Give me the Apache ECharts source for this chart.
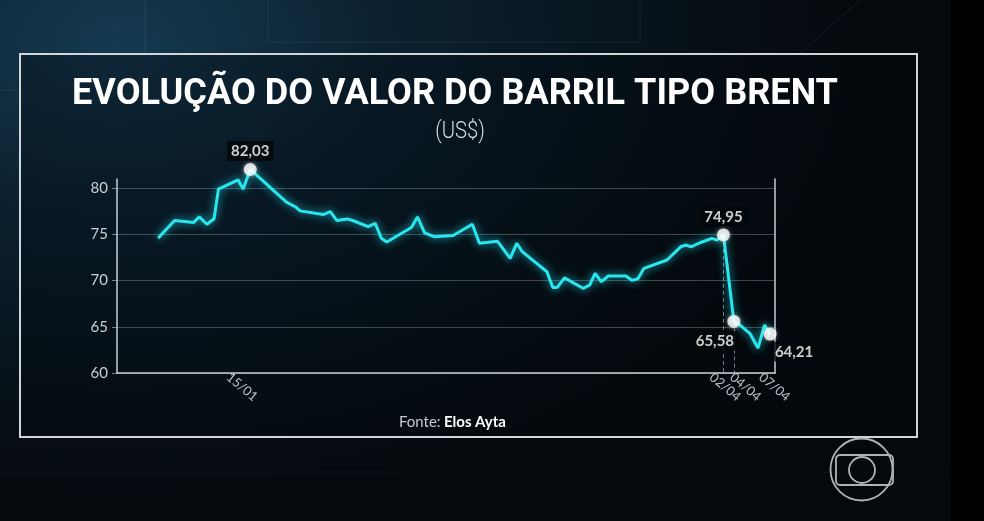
<!DOCTYPE html>
<html>
<head>
<meta charset="utf-8">
<script src="https://cdn.jsdelivr.net/npm/echarts@6/dist/echarts.min.js"></script>
<style>
  html, body { margin: 0; padding: 0; background: #000; }
  #chart {
    width: 984px; height: 521px;
    background: radial-gradient(ellipse 75% 90% at 12% 8%, #153a50 0%, #0c2231 35%, #08151e 65%, #05090d 100%);
  }
</style>
</head>
<body>
<div id="chart"></div>
<script>
// ---- data ----
// position along the time axis (sessions, approximate) and Brent price (US$)
const times = [7.5, 10.5, 14, 15, 16.4, 17.7, 18.5, 22.1, 23, 24.3,
  30.9, 32.5, 33.4, 37.6, 38.9, 40.1, 42.0, 43.1, 45.8, 47.1,
  48.2, 49.2, 53.7, 54.8, 56.1, 57.8, 61.3, 64.8, 66.1, 69.4,
  71.7, 72.9, 73.9, 78.4, 79.5, 80.3, 81.6, 85.0, 86.2, 87.2,
  88.3, 89.6, 92.8, 93.9, 95.0, 96.1, 100.3, 102.9, 103.8, 104.7,
  106.3, 108.5, 109.4, 110.6, 112.5, 113.8, 115.4, 116.9, 118.1, 119.1];
const prices = [74.6, 76.5, 76.3, 76.9, 76.1, 76.7, 79.9, 80.9, 79.9, 82.03,
  78.5, 78.0, 77.55, 77.15, 77.46, 76.5, 76.68, 76.48, 75.85, 76.2,
  74.58, 74.18, 75.75, 76.9, 75.18, 74.75, 74.88, 76.1, 74.04, 74.25,
  72.41, 74.04, 73.13, 70.96, 69.23, 69.27, 70.3, 69.17, 69.52, 70.79,
  69.88, 70.5, 70.5, 70.03, 70.2, 71.33, 72.23, 73.7, 73.85, 73.65,
  74.1, 74.58, 74.39, 74.95, 65.58, 65.1, 64.3, 62.7, 65.2, 64.21];
// highlighted points (indices into the arrays above)
const highlightIdx = [9, 53, 54, 59];
// x tick labels and where they sit on the time axis
const tickPos = [22.8, 110.9, 114.6, 119.9];
const tickLabels = ['15/01', '02/04', '04/04', '07/04'];
// dashed guide lines (indices into the arrays)
const guideIdx = [9, 53, 54];
const yTicks = [60, 65, 70, 75, 80];

const titleText = 'EVOLUÇÃO DO VALOR DO BARRIL TIPO BRENT';
const subtitleText = '(US$)';
const sourceText = '{a|Fonte:} {b|Elos Ayta}';

// ---- helpers ----
function textWidth(str, font) {
  const c = document.createElement('canvas').getContext('2d');
  c.font = font;
  return c.measureText(str).width;
}
const titleFont = 'bold 37px Roboto';
const titleScale = 766 / textWidth(titleText, titleFont);

// ---- chart ----
const chart = echarts.init(document.getElementById('chart'), null, { renderer: 'canvas' });
const fmt = v => v.toFixed(2).replace('.', ',');
const lineData = times.map((t, i) => [t, prices[i]]);

const labelPos = [
  { position: 'top', distance: 2, offset: [0, 0] },
  { position: 'top', distance: 2, offset: [0, 0] },
  { position: 'bottom', distance: 3, offset: [-19, 0] },
  { position: 'bottom', distance: 0, offset: [24, 1] }
];
const hiData = highlightIdx.map((idx, k) => ({
  value: [times[idx], prices[idx]],
  label: labelPos[k]
}));

const guideLines = guideIdx.map(idx => [
  { coord: [times[idx], prices[idx]] },
  { coord: [times[idx], 60] }
]);

const axisGray = '#c9cfd2';

chart.setOption({
  backgroundColor: 'transparent',
  animation: false,
  textStyle: { fontFamily: 'Lato, "Open Sans", sans-serif' },
  grid: { left: 117, right: 209, top: 179, bottom: 148 },
  xAxis: {
    type: 'value', min: 0, max: 120,
    axisLine: { show: true, lineStyle: { color: axisGray, width: 1.5 } },
    axisTick: { show: false },
    splitLine: { show: false },
    axisLabel: {
      customValues: tickPos,
      rotate: -40,
      align: 'center',
      verticalAlign: 'middle',
      margin: 14,
      color: '#bcc4c8',
      fontSize: 13,
      formatter: v => {
        const k = tickPos.findIndex(p => Math.abs(p - v) < 0.01);
        return k >= 0 ? tickLabels[k] : '';
      }
    }
  },
  yAxis: [{
    type: 'value', min: 60, max: 81,
    axisLine: { show: true, lineStyle: { color: axisGray, width: 1.5 } },
    axisTick: { show: true, customValues: yTicks, length: 5, lineStyle: { color: 'rgba(190,200,205,0.6)' } },
    axisLabel: { customValues: yTicks, color: '#c8d0d4', fontSize: 15, margin: 9 },
    splitLine: { show: true, lineStyle: { color: 'rgba(170,185,190,0.35)', width: 1 } }
  }, {
    type: 'value', min: 60, max: 81, position: 'right',
    axisLine: { show: true, lineStyle: { color: axisGray, width: 1.5 } },
    axisTick: { show: false }, axisLabel: { show: false }, splitLine: { show: false }
  }],
  series: [{
    type: 'line',
    data: lineData,
    clip: false,
    symbol: 'none',
    z: 3,
    lineStyle: { color: '#2ae6ee', width: 3, shadowColor: 'rgba(30,220,235,0.9)', shadowBlur: 8 },
    markLine: {
      silent: true, symbol: 'none', animation: false,
      label: { show: false },
      lineStyle: { color: 'rgba(190,200,205,0.6)', type: [4, 3], width: 1 },
      data: guideLines
    }
  }, {
    type: 'scatter',
    data: hiData,
    clip: false,
    z: 5,
    symbolSize: 13,
    itemStyle: { color: '#ffffff', shadowColor: 'rgba(255,255,255,0.6)', shadowBlur: 4 },
    label: {
      show: true,
      formatter: p => fmt(p.value[1]),
      color: '#ffffff',
      fontSize: 15,
      fontWeight: 'bold',
      backgroundColor: '#040709',
      padding: [3, 4, 2, 4]
    }
  }],
  graphic: [
    // black strip on the right
    { type: 'rect', z: -10, shape: { x: 951, y: 0, width: 33, height: 521 }, style: { fill: '#000' } },
    // faint background lines
    { type: 'polyline', z: -9, shape: { points: [[268, 0], [268, 42], [640, 42], [640, 0]] }, style: { stroke: 'rgba(140,180,200,0.10)', fill: null, lineWidth: 1 } },
    { type: 'line', z: -9, shape: { x1: 145, y1: 0, x2: 145, y2: 53 }, style: { stroke: 'rgba(140,180,200,0.12)', lineWidth: 1 } },
    { type: 'line', z: -9, shape: { x1: 860, y1: 0, x2: 800, y2: 53 }, style: { stroke: 'rgba(140,180,200,0.12)', lineWidth: 1 } },
    { type: 'line', z: -9, shape: { x1: 0, y1: 472, x2: 951, y2: 472 }, style: { stroke: 'rgba(140,180,200,0.07)', lineWidth: 1 } },
    { type: 'line', z: -9, shape: { x1: 0, y1: 90, x2: 20, y2: 90 }, style: { stroke: 'rgba(140,180,200,0.10)', lineWidth: 1 } },
    // frame
    { type: 'rect', z: -5, shape: { x: 20, y: 54, width: 897, height: 383 },
      style: { fill: 'rgba(3,9,13,0.35)', stroke: '#d0d5d7', lineWidth: 2 } },
    // title
    { type: 'text', z: 10, x: 455, y: 95, scaleX: titleScale,
      style: { text: titleText, fill: '#ffffff', font: titleFont,
        align: 'center', verticalAlign: 'middle',
        shadowColor: 'rgba(0,0,0,0.6)', shadowBlur: 4 } },
    { type: 'text', z: 10, x: 460, y: 132, scaleX: 0.88,
      style: { text: subtitleText, fill: '#d6dbde', font: '300 23px Roboto',
        align: 'center', verticalAlign: 'middle' } },
    // source
    { type: 'text', z: 10, x: 399, y: 422,
      style: { text: sourceText, verticalAlign: 'middle', align: 'left',
        rich: {
          a: { fontSize: 15, fill: '#c5cbce', fontFamily: 'Lato, sans-serif' },
          b: { fontSize: 15, fill: '#ffffff', fontWeight: 'bold', fontFamily: 'Lato, sans-serif' }
        } } },
    // logo
    { type: 'circle', z: 10, shape: { cx: 861.5, cy: 469.5, r: 31 }, style: { fill: null, stroke: '#aeb3b6', lineWidth: 1.8 } },
    { type: 'rect', z: 10, shape: { x: 836, y: 455, width: 57, height: 30, r: 4 }, style: { fill: null, stroke: '#aeb3b6', lineWidth: 1.8 } },
    { type: 'circle', z: 10, shape: { cx: 862, cy: 470, r: 13 }, style: { fill: null, stroke: '#aeb3b6', lineWidth: 1.8 } }
  ]
});
</script>
</body>
</html>
